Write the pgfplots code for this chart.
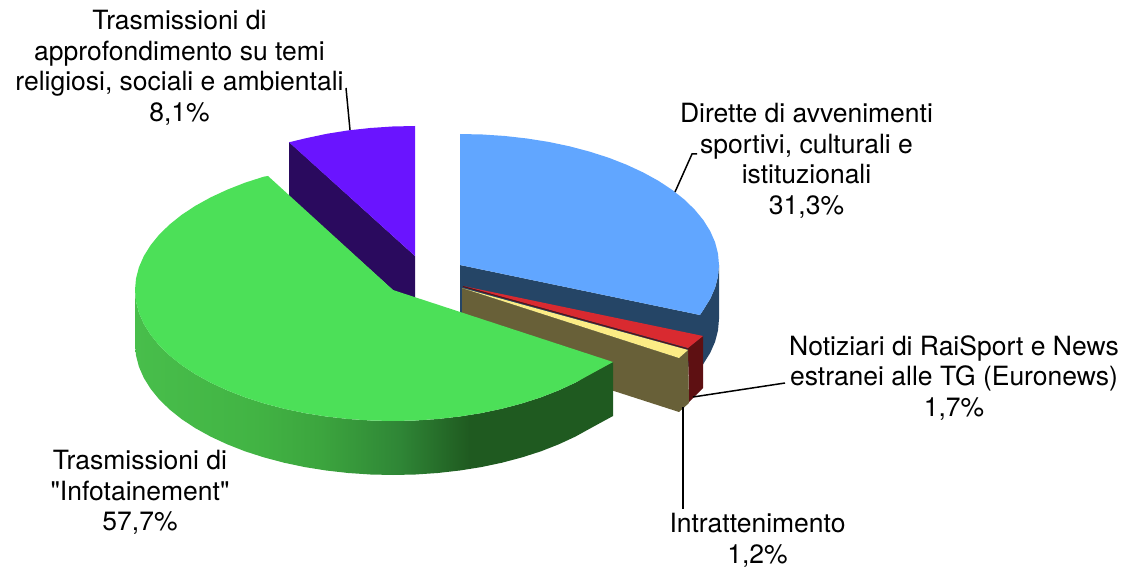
\documentclass[border=0pt]{standalone}
\usepackage{pgfplots}
\pgfplotsset{compat=1.18}
\usepackage{fontspec}
\setmainfont{TeX Gyre Heros}
\newfontfamily\qf{TeX Gyre Heros}
\definecolor{cblue}{RGB}{97,166,255}
\definecolor{cbluedk}{RGB}{37,69,102}
\definecolor{cgreen}{RGB}{76,224,88}
\definecolor{cpurple}{RGB}{106,20,255}
\definecolor{cpurpledk}{RGB}{42,10,94}
\definecolor{cred}{RGB}{217,42,48}
\definecolor{creddk}{RGB}{94,16,18}
\definecolor{cyellow}{RGB}{252,236,133}
\definecolor{colive}{RGB}{104,96,56}
\definecolor{gs0}{RGB}{72,190,75}
\definecolor{gs1}{RGB}{66,180,68}
\definecolor{gs2}{RGB}{60,165,62}
\definecolor{gs3}{RGB}{47,134,54}
\definecolor{gs4}{RGB}{31,90,32}
\pgfdeclarehorizontalshading{greenside}{100bp}{color(0bp)=(gs0); color(25bp)=(gs0); color(37.3bp)=(gs1); color(44.4bp)=(gs2); color(52.7bp)=(gs3); color(60bp)=(gs4); color(100bp)=(gs4)}
\tikzset{lab/.style={align=center,inner sep=0pt,font=\fontsize{26.5}{30.5}\selectfont}}
\begin{document}
\begin{tikzpicture}
\useasboundingbox (0,0) rectangle (1130pt,569pt);
\begin{axis}[at={(0,0)},anchor=south west,scale only axis,width=1130pt,height=569pt,
  xmin=0,xmax=1130,ymin=0,ymax=569,y dir=reverse,hide axis,clip=false]
% purple slice
\addplot[fill=cpurpledk,draw=none] coordinates {(289,142) (415,256) (415,310) (289,196)} -- cycle;
\addplot[fill=cpurple,draw=none] coordinates {(415,256) (415,126) (392.5,126.5) (370.2,128) (348.2,130.4) (326.8,133.8) (306,138.2) (289,142.3)} -- cycle;
% blue slice
\addplot[fill=cbluedk,draw=none] coordinates {(460,265) (700,315) (703.4,309.8) (710.2,298.9) (715.1,287.7) (718,276.4) (719,265) (719,319) (718,330.4) (715.1,341.7) (710.2,352.9) (703.4,363.8) (700,369) (460,319)} -- cycle;
\addplot[fill=cblue,draw=none] coordinates {(460,265) (460,134) (482.6,134.5) (505,136) (527,138.5) (548.6,141.9) (569.5,146.3) (589.5,151.6) (608.6,157.7) (626.5,164.7) (643.1,172.4) (658.4,180.8) (672.2,189.9) (684.3,199.5) (694.7,209.6) (703.4,220.2) (710.2,231.1) (715.1,242.3) (718,253.6) (719,265) (718,276.4) (715.1,287.7) (710.2,298.9) (703.4,309.8) (700,315)} -- cycle;
% red slice
\addplot[fill=creddk,draw=none] coordinates {(688,348) (703,336) (703,388) (689,402)} -- cycle;
\addplot[fill=cred,draw=none] coordinates {(463,286) (703,336) (688,348)} -- cycle;
\addplot[draw=creddk,line width=1pt] coordinates {(463,286.5) (688,349)};
% yellow / olive slice
\addplot[fill=colive,draw=none] coordinates {(462,288) (679,358) (688,350) (689,403) (679,412) (462,342)} -- cycle;
\addplot[fill=cyellow,draw=none] coordinates {(462,288) (688,350) (679,358)} -- cycle;
% green slice
\addplot[shade,shading=greenside,draw=none] coordinates {(613,362) (590.6,374.2) (575.4,382.6) (558.8,390.3) (541,397.3) (522,403.4) (502,408.7) (481.2,413.1) (459.8,416.5) (437.8,419) (415.5,420.5) (393,421) (370.5,420.5) (348.2,419) (326.2,416.5) (304.8,413.1) (284,408.7) (264,403.4) (245,397.3) (227.2,390.3) (210.6,382.6) (195.4,374.2) (181.6,365.1) (169.6,355.5) (159.2,345.4) (150.6,334.8) (143.8,323.9) (138.9,312.7) (136,301.4) (135,290)
 (135,344) (136,355.4) (138.9,366.7) (143.8,377.9) (150.6,388.8) (159.2,399.4) (169.6,409.5) (181.6,419.1) (195.4,428.2) (210.6,436.6) (227.2,444.3) (245,451.3) (264,457.4) (284,462.7) (304.8,467.1) (326.2,470.5) (348.2,473) (370.5,474.5) (393,475) (415.5,474.5) (437.8,473) (459.8,470.5) (481.2,467.1) (502,462.7) (522,457.4) (541,451.3) (558.8,444.3) (575.4,436.6) (590.6,428.2) (613,416)} -- cycle;
\addplot[fill=cgreen,draw=none] coordinates {(393,290) (613,362) (590.6,374.2) (575.4,382.6) (558.8,390.3) (541,397.3) (522,403.4) (502,408.7) (481.2,413.1) (459.8,416.5) (437.8,419) (415.5,420.5) (393,421) (370.5,420.5) (348.2,419) (326.2,416.5) (304.8,413.1) (284,408.7) (264,403.4) (245,397.3) (227.2,390.3) (210.6,382.6) (195.4,374.2) (181.6,365.1) (169.6,355.5) (159.2,345.4) (150.6,334.8) (143.8,323.9) (138.9,312.7) (136,301.4) (135,290) (136,278.6) (138.9,267.3) (143.8,256.1) (150.6,245.2) (159.2,234.6) (169.6,224.5) (181.6,214.9) (195.4,205.8) (210.6,197.4) (227.2,189.7) (245,182.7) (264,176.6) (268,176)} -- cycle;
% leader lines
\addplot[black,line width=1.5pt] coordinates {(350,130) (346,88)};
\addplot[black,line width=1.5pt] coordinates {(675,192) (692,154) (697,154)};
\addplot[black,line width=1.5pt] coordinates {(693,397) (785,383)};
\addplot[black,line width=1.5pt] coordinates {(683,407) (683,509)};
% labels
\node[lab] at (axis cs:179.5,68) {Trasmissioni di\\approfondimento su temi\\religiosi, sociali e ambientali\\8,1\%};
\node[lab] at (axis cs:806.5,161) {Dirette di avvenimenti\\sportivi, culturali e\\istituzionali\\31,3\%};
\node[lab] at (axis cs:954,378) {Notiziari di RaiSport e News\\estranei alle TG (Euronews)\\1,7\%};
\node[lab] at (axis cs:757.5,540.5) {Intrattenimento\\1,2\%};
\node[lab] at (axis cs:140,492.5) {Trasmissioni di\\{\qf "}Infotainement{\qf "}\\57,7\%};
\end{axis}
\end{tikzpicture}
\end{document}
